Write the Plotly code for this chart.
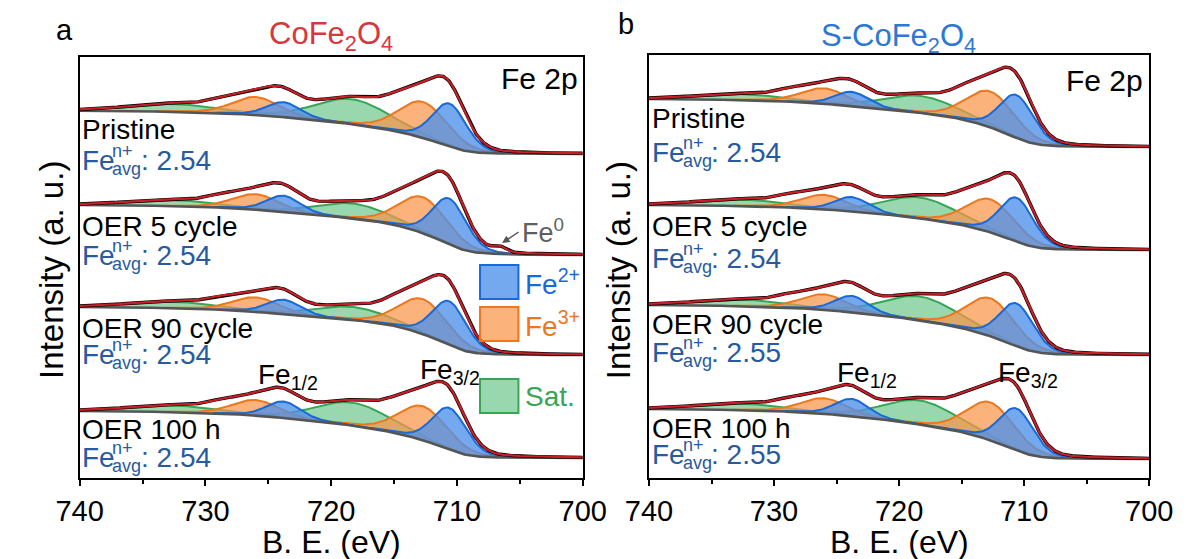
import numpy as np
import plotly.graph_objects as go

W, H = 1202, 559
FONT = "Arial, Liberation Sans, sans-serif"

# ---------------- data ----------------
labels = ["Pristine", "OER 5 cycle", "OER 90 cycle", "OER 100 h"]
x_ticks = [740, 730, 720, 710, 700]
x_minor = [735, 725, 715, 705]

# drawn components: Fe2+ 2p3/2, Fe3+ 2p3/2, Sat., Fe2+ 2p1/2, Fe3+ 2p1/2, Sat.
comp_center = [710.6, 712.7, 718.3, 723.8, 726.0, 732.5]
comp_fwhm = [3.2, 4.6, 7.0, 3.2, 4.4, 8.0]
comp_kind = ["fe2", "fe3", "sat", "fe2", "fe3", "sat"]
comp_region = [0, 0, 0, 1, 1, 1]          # 0: 2p3/2 region, 1: 2p1/2 region
# envelope-only contributions (not drawn as filled components)
extra_center = [714.8, 728.8, 706.6]      # last one: Fe0 shoulder
extra_fwhm = [3.2, 3.0, 1.2]
extra_region = [0, 1, 0]

# panel a : CoFe2O4  (intensity, arbitrary units)
a_base = [324, 223, 123, 20]
a_step32 = [36.5, 42, 40, 39.5]
a_step12 = [6.8, 8, 8, 7.5]
a_fe2_32 = [43, 46, 44, 42]
a_fe3_32 = [36, 36, 35, 34]
a_sat_32 = [25, 15, 13, 23]
a_fe2_12 = [15, 16.5, 14.5, 16.5]
a_fe3_12 = [18, 15.5, 14.5, 15.5]
a_sat_12 = [7.8, 6, 6.5, 6.5]
a_extra1 = [6, 6, 6, 6]
a_extra2 = [5, 5, 5, 5]
a_fe0 = [0, 5, 0, 0]
a_avg = ["2.54", "2.54", "2.54", "2.54"]

# panel b : S-CoFe2O4
b_base = [331, 228, 123, 19]
b_step32 = [40, 38, 42, 42]
b_step12 = [8, 7, 8, 8]
b_fe2_32 = [43, 44, 43, 42]
b_fe3_32 = [36, 33, 38, 38]
b_sat_32 = [17, 21, 24, 24]
b_fe2_12 = [14.5, 14.5, 16.5, 17.5]
b_fe3_12 = [15.5, 14.5, 15.5, 15.5]
b_sat_12 = [6, 6.5, 6.5, 6.5]
b_extra1 = [6, 6, 6, 6]
b_extra2 = [5, 5, 5, 5]
b_fe0 = [0, 0, 0, 0]
b_avg = ["2.54", "2.54", "2.55", "2.55"]

# ---------------- styles ----------------
FILL = {"fe2": "rgba(78,145,235,0.78)", "fe3": "rgba(250,148,72,0.72)",
        "sat": "rgba(85,190,122,0.6)"}
LINE = {"fe2": "rgb(25,105,215)", "fe3": "rgb(238,118,28)", "sat": "rgb(55,165,85)"}
RED = "rgb(200,30,40)"
GRAY = "rgb(85,85,85)"
NAVY = "rgb(40,90,160)"

E = np.round(np.arange(740.0, 699.95, -0.1), 2)


def shape(c, w):
    g = np.exp(-4 * np.log(2) * (E - c) ** 2 / w ** 2)
    l = 1.0 / (1 + 4 * (E - c) ** 2 / w ** 2)
    return 0.8 * g + 0.2 * l


def shirley_fraction(y):
    # integrated intensity from the low-BE end, normalised (Shirley-type)
    rev = y[::-1]
    cum = np.concatenate([[0], np.cumsum((rev[1:] + rev[:-1]) / 2)])[::-1]
    return cum / cum[0]


fig = go.Figure()


def add_panel(xa, ya, base, step32, step12, heights, extras):
    for i in range(4):
        comps = [h[i] * shape(c, w) for h, c, w in zip(heights, comp_center, comp_fwhm)]
        ext = [h[i] * shape(c, w) for h, c, w in zip(extras, extra_center, extra_fwhm)]
        g32 = sum(c for c, r in zip(comps, comp_region) if r == 0) + \
            sum(c for c, r in zip(ext, extra_region) if r == 0)
        g12 = sum(c for c, r in zip(comps, comp_region) if r == 1) + \
            sum(c for c, r in zip(ext, extra_region) if r == 1)
        total = g32 + g12
        # two-region Shirley background (2p3/2 and 2p1/2)
        bg = base[i] + step32[i] * shirley_fraction(g32) + step12[i] * shirley_fraction(g12)
        env = bg + total
        for k in [2, 5, 1, 4, 0, 3]:
            p = comps[k]
            m = p > 0.25
            kind = comp_kind[k]
            fig.add_trace(go.Scatter(x=E[m], y=bg[m], mode="lines", line=dict(width=0),
                                     xaxis=xa, yaxis=ya, showlegend=False, hoverinfo="skip"))
            fig.add_trace(go.Scatter(x=E[m], y=(bg + p)[m], mode="lines", fill="tonexty",
                                     fillcolor=FILL[kind], line=dict(color=LINE[kind], width=2),
                                     xaxis=xa, yaxis=ya, showlegend=False, hoverinfo="skip"))
        fig.add_trace(go.Scatter(x=E, y=bg, mode="lines", line=dict(color=GRAY, width=2.6),
                                 xaxis=xa, yaxis=ya, showlegend=False, hoverinfo="skip"))
        fig.add_trace(go.Scatter(x=E, y=env, mode="lines", line=dict(color="black", width=3.4),
                                 xaxis=xa, yaxis=ya, showlegend=False, hoverinfo="skip"))
        fig.add_trace(go.Scatter(x=E, y=env, mode="lines", line=dict(color=RED, width=2.2),
                                 xaxis=xa, yaxis=ya, showlegend=False, hoverinfo="skip"))


add_panel("x", "y", a_base, a_step32, a_step12,
          [a_fe2_32, a_fe3_32, a_sat_32, a_fe2_12, a_fe3_12, a_sat_12],
          [a_extra1, a_extra2, a_fe0])
add_panel("x2", "y2", b_base, b_step32, b_step12,
          [b_fe2_32, b_fe3_32, b_sat_32, b_fe2_12, b_fe3_12, b_sat_12],
          [b_extra1, b_extra2, b_fe0])


# ---------------- axes ----------------
def px(x):
    return x / W


def py(y):
    return 1 - y / H


A_L, A_R, A_T, A_B = 58, 582, 57, 478
B_L, B_R, B_T, B_B = 651, 1172, 55, 478

xcommon = dict(range=[740, 700], tickvals=x_ticks, ticks="outside", ticklen=6, tickwidth=2,
               tickcolor="black", showline=True, linecolor="black", linewidth=2, mirror=True,
               showgrid=False, zeroline=False,
               tickfont=dict(family=FONT, size=29, color="black"),
               minor=dict(tickvals=x_minor, ticks="outside", ticklen=4,
                          tickwidth=2, tickcolor="black"))
ycommon = dict(showticklabels=False, ticks="", showline=True, linecolor="black", linewidth=2,
               mirror=True, showgrid=False, zeroline=False)

fig.update_layout(
    width=W, height=H, margin=dict(l=0, r=0, t=0, b=0),
    paper_bgcolor="white", plot_bgcolor="white", showlegend=False,
    xaxis=dict(domain=[px(A_L), px(A_R)], anchor="y", **xcommon),
    yaxis=dict(domain=[py(A_B), py(A_T)], anchor="x", range=[0, A_B - A_T], **ycommon),
    xaxis2=dict(domain=[px(B_L), px(B_R)], anchor="y2", **xcommon),
    yaxis2=dict(domain=[py(B_B), py(B_T)], anchor="x2", range=[0, B_B - B_T], **ycommon),
)

ann = []


def text(x, y, s, size, color="black", xanchor="left", yanchor="middle", angle=0):
    ann.append(dict(x=px(x), y=py(y), xref="paper", yref="paper", text=s, showarrow=False,
                    xanchor=xanchor, yanchor=yanchor, textangle=angle, borderpad=0,
                    font=dict(family=FONT, size=size, color=color)))


def fe_avg(x, y, val):
    text(x, y, "Fe", 28, NAVY)
    text(x + 32, y - 9, "n+", 18, NAVY)
    text(x + 32, y + 9, "avg", 18, NAVY)
    text(x + 62, y, ": " + val, 28, NAVY)


# panel letters and titles
text(42, 30, "a", 29, xanchor="center")
text(627, 24, "b", 29, xanchor="center")
text(320, 36, "CoFe<sub>2</sub>O<sub>4</sub>", 31, "rgb(215,55,60)", xanchor="center")
text(911, 38, "S-CoFe<sub>2</sub>O<sub>4</sub>", 31, "rgb(45,120,210)", xanchor="center")

# axis titles
for cx in [(A_L + A_R) / 2, (B_L + B_R) / 2]:
    text(cx, 542, "B. E. (eV)", 32, xanchor="center")
text(28, 270, "Intensity (a. u.)", 33, xanchor="center", angle=-90)
text(619, 270, "Intensity (a. u.)", 33, xanchor="center", angle=-90)

# Fe 2p labels
text(578, 78, "Fe 2p", 30, xanchor="right")
text(1167, 81, "Fe 2p", 30, xanchor="right")

# sample labels
a_lab_y = [129, 226, 328, 429]
a_avg_y = [160, 255, 354, 457]
b_lab_y = [118, 226, 324, 428]
b_avg_y = [152, 258, 352, 454]
for i in range(4):
    text(59, a_lab_y[i], labels[i], 28)
    fe_avg(59, a_avg_y[i], a_avg[i])
    text(653, b_lab_y[i], labels[i], 28)
    fe_avg(653, b_avg_y[i], b_avg[i])

# Fe1/2, Fe3/2 labels
text(243, 376, "Fe<sub>1/2</sub>", 28)
text(411, 371, "Fe<sub>3/2</sub>", 28)
text(846, 374, "Fe<sub>1/2</sub>", 28)
text(1013, 374, "Fe<sub>3/2</sub>", 28)

# Fe0 annotation
ann.append(dict(x=px(498), y=py(243), ax=18, ay=-12, xref="paper", yref="paper",
                axref="pixel", ayref="pixel", showarrow=True, arrowhead=2, arrowsize=1,
                arrowwidth=1.5, arrowcolor=GRAY, text=""))
text(518, 231, "Fe<sup>0</sup>", 27, "rgb(95,95,95)")

# legend boxes
shapes = []
leg = [("fe2", "Fe<sup>2+</sup>", 265, 299), ("fe3", "Fe<sup>3+</sup>", 307, 341),
       ("sat", "Sat.", 379, 413)]
for kind, lab, y0, y1 in leg:
    shapes.append(dict(type="rect", xref="paper", yref="paper", x0=px(475), x1=px(515),
                       y0=py(y1), y1=py(y0), fillcolor=FILL[kind],
                       line=dict(color=LINE[kind], width=2)))
    text(521, (y0 + y1) / 2, lab, 28, LINE[kind])

fig.update_layout(annotations=ann, shapes=shapes)
fig.write_html("out.html")
